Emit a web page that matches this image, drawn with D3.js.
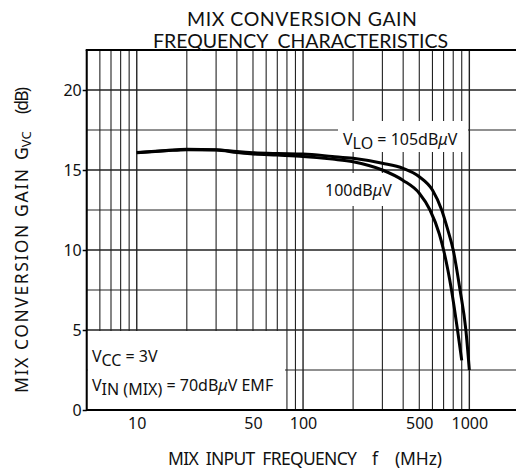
<!DOCTYPE html>
<html><head><meta charset="utf-8">
<script src="https://cdn.jsdelivr.net/npm/d3@7"></script>
<style>
html,body{margin:0;padding:0;background:#fff;}
svg{display:block;font-family:"Noto Sans","Open Sans",sans-serif;}
text{fill:#111;}
</style></head>
<body>
<svg id="c" width="516" height="472"></svg>
<script>
// ---- data ----
const freqTickLabels = [10, 50, 100, 500, 1000];
const gainTickLabels = [0, 5, 10, 15, 20];
const gridGains = [0, 2.5, 5, 7.5, 10, 12.5, 15, 17.5, 20, 22.5];
const gridFreqs = [5,6,7,8,9,10,20,30,40,50,60,70,80,90,100,200,300,400,500,600,700,800,900,1000,2000];

const freqs100 = [10, 15, 20, 30, 40, 50, 70, 100, 150, 200, 300, 400, 500, 580, 660, 700, 781, 849, 900];
const gain100  = [16.08, 16.2, 16.27, 16.25, 16.1, 16.0, 15.93, 15.85, 15.68, 15.52, 15.0, 14.35, 13.55, 12.5, 11.0, 10.0, 7.5, 5.0, 3.1];

const freqs105 = [10, 15, 20, 30, 40, 50, 70, 100, 150, 200, 300, 400, 500, 600, 682, 740, 800, 879, 953, 1000];
const gain105  = [16.1, 16.22, 16.29, 16.27, 16.15, 16.08, 16.03, 16.0, 15.85, 15.73, 15.42, 15.1, 14.58, 13.75, 12.5, 11.3, 10.0, 7.5, 5.0, 2.5];

const series = [
  {name: "100dBμV", f: freqs100, g: gain100},
  {name: "105dBμV", f: freqs105, g: gain105}
];

// ---- scales ----
const svg = d3.select("#c");
const x = d3.scaleLog().domain([5, 2000]).range([86.7, 519.4]);
const y = d3.scaleLinear().domain([0, 22.5]).range([410, 50]);
const X0 = x(5), X1 = 516, Y0 = y(0), Y1 = y(22.5);

// grid
const grid = svg.append("g");
grid.selectAll("line.v").data(gridFreqs).join("line")
  .attr("x1", d => x(d)).attr("x2", d => x(d))
  .attr("y1", Y1).attr("y2", Y0)
  .attr("stroke", "#222").attr("stroke-width", d => [10,100,1000].includes(d) ? 1.4 : 1.1);
grid.selectAll("line.h").data(gridGains).join("line")
  .attr("x1", X0).attr("x2", X1)
  .attr("y1", d => y(d)).attr("y2", d => y(d))
  .attr("stroke", "#222").attr("stroke-width", d => d % 5 === 0 ? 1.5 : 1.2);

// white masks (label boxes)
const masks = svg.append("g").attr("fill", "#fff");
masks.append("rect").attr("x", X0 + 1).attr("y", y(5) + 1).attr("width", 285 - X0 - 1).attr("height", Y0 - y(5) - 2);
masks.append("rect").attr("x", 338).attr("y", 121).attr("width", 130).attr("height", 31);
masks.append("rect").attr("x", 323).attr("y", 173).attr("width", 73).attr("height", 33);

// axes frame
svg.append("line").attr("x1", X0).attr("x2", X0).attr("y1", Y1).attr("y2", Y0 + 1).attr("stroke", "#000").attr("stroke-width", 2);
svg.append("line").attr("x1", X0).attr("x2", X1).attr("y1", Y0).attr("y2", Y0).attr("stroke", "#000").attr("stroke-width", 2);
svg.append("line").attr("x1", X0 - 1).attr("x2", X1).attr("y1", Y1).attr("y2", Y1).attr("stroke", "#000").attr("stroke-width", 2);

// y axis ticks & labels
const yAxis = d3.axisLeft(y).tickValues(gainTickLabels).tickSize(4).tickPadding(1).tickFormat(d3.format("d"));
const ya = svg.append("g").attr("transform", `translate(${X0},0)`).call(yAxis);
ya.select(".domain").remove();
ya.selectAll("text").attr("font-size", 16).attr("fill", "#111").style("font-family", '"Noto Sans","Open Sans",sans-serif');
ya.selectAll("line").attr("stroke", "#000").attr("stroke-width", 1.5);

// x axis labels
const xAxis = d3.axisBottom(x).tickValues(freqTickLabels).tickSize(0).tickPadding(8).tickFormat(d3.format("d"));
const xa = svg.append("g").attr("transform", `translate(0,${Y0})`).call(xAxis);
xa.select(".domain").remove();
xa.selectAll("text").attr("font-size", 16).attr("fill", "#111").style("font-family", '"Noto Sans","Open Sans",sans-serif');

// curves
const line = d3.line().x(d => x(d[0])).y(d => y(d[1])).curve(d3.curveMonotoneX);
svg.append("g").selectAll("path").data(series).join("path")
  .attr("d", s => line(s.f.map((f, i) => [f, s.g[i]])))
  .attr("fill", "none").attr("stroke", "#000").attr("stroke-width", 3).attr("stroke-linejoin", "round");

// titles
svg.append("text").attr("x", 187).attr("y", 25.5).attr("font-size", 19.5).style("font-family", "Lato, 'Noto Sans', sans-serif")
  .attr("textLength", 230).attr("lengthAdjust", "spacing").text("MIX CONVERSION GAIN");
svg.append("text").attr("x", 153).attr("y", 47.5).attr("font-size", 19.5).style("font-family", "Lato, 'Noto Sans', sans-serif")
  .attr("textLength", 295).attr("lengthAdjust", "spacing").style("white-space", "pre").text("FREQUENCY  CHARACTERISTICS");

// x title
const xt = svg.append("g").attr("font-size", 17.5);
xt.append("text").attr("x", 168).attr("y", 465).attr("textLength", 189).attr("lengthAdjust", "spacing")
  .style("white-space", "pre").text("MIX  INPUT  FREQUENCY");
xt.append("text").attr("x", 372).attr("y", 465).text("f");
xt.append("text").attr("x", 395).attr("y", 465).attr("textLength", 47).attr("lengthAdjust", "spacing").text("(MHz)");

// y title
const yt = svg.append("g").attr("font-size", 17.5);
yt.append("text").attr("transform", "translate(27.5,393) rotate(-90)").attr("textLength", 224).attr("lengthAdjust", "spacing")
  .text("MIX CONVERSION GAIN");
const g = yt.append("text").attr("transform", "translate(27.5,160) rotate(-90)");
g.append("tspan").text("G");
g.append("tspan").attr("dy", 3).attr("font-size", 13).text("VC");
yt.append("text").attr("transform", "translate(27.5,114) rotate(-90)").attr("textLength", 27).attr("lengthAdjust", "spacing").text("(dB)");

// annotation texts
function label(xp, yp, parts) {
  const t = svg.append("text").attr("x", xp).attr("y", yp).attr("font-size", 16);
  parts.forEach(p => {
    const s = t.append("tspan").text(p.t);
    if (p.sub) s.attr("dy", 4);
    if (p.up) s.attr("dy", -4);
    if (p.it) s.attr("font-style", "italic");
  });
  return t;
}
label(92, 362, [{t: "V"}, {t: "CC", sub: true}, {t: " = 3V", up: true}]);
label(92, 391, [{t: "V"}, {t: "IN (MIX)", sub: true}, {t: " = 70dB", up: true}, {t: "μ", it: true}, {t: "V EMF"}]);
label(343, 145, [{t: "V"}, {t: "LO", sub: true}, {t: " = 105dB", up: true}, {t: "μ", it: true}, {t: "V"}]);
label(325, 196, [{t: "100dB"}, {t: "μ", it: true}, {t: "V"}]);
</script>
</body></html>
